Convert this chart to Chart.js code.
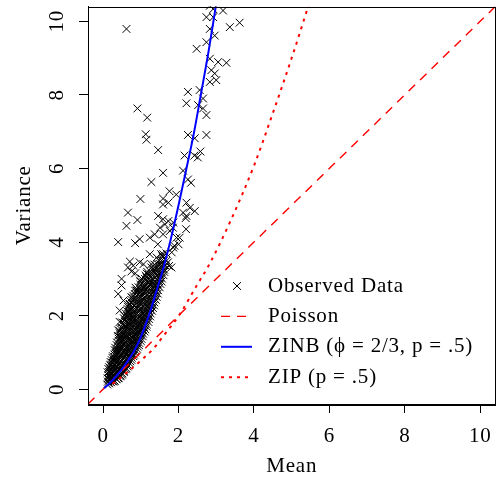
<!DOCTYPE html>
<html lang="en">
<head>
<meta charset="UTF-8">
<title>Mean vs Variance</title>
<script src="https://cdn.jsdelivr.net/npm/chart.js"></script>
<style>
  body { margin: 0; background: #fff; }
</style>
</head>
<body>
<canvas id="mvChart" width="502" height="479"></canvas>
<script>
// observed data, the scattered crosses outside the dense band
const sparseMean = [
  0.62, 2.92, 3.18, 2.74, 2.92, 2.83, 2.96, 3.36, 3.62, 2.74,
  2.48, 2.83, 3.05, 3.27, 2.87, 2.96, 2.83, 3.00, 2.25, 2.56,
  2.65, 2.21, 2.52, 2.65, 2.74, 2.25, 2.43, 2.74, 2.83, 0.91,
  1.17, 1.13, 1.15, 1.46, 2.16, 2.42, 2.58, 2.51, 1.59, 2.12,
  1.28, 2.25, 2.33, 1.76, 1.94, 0.99, 1.59, 1.59, 1.73, 2.21,
  2.30, 2.43, 2.12, 2.21, 1.46, 1.59, 1.73, 1.86, 0.66, 0.91,
  0.62, 2.19, 1.85, 2.20, 1.51, 1.64, 1.77, 1.95, 0.40, 0.85,
  0.97, 1.24, 1.37, 1.59, 2.03, 2.00, 1.89, 1.86, 1.45, 1.54,
  1.24, 1.42, 1.59, 1.82, 1.68, 0.71, 0.97, 0.80, 1.28, 1.07,
  1.51, 1.72, 1.81, 1.33, 1.62, 1.75, 1.50, 0.66, 0.75, 0.85,
  0.49, 0.49, 0.40, 0.54, 0.76, 0.71, 1.15, 0.98, 1.24, 1.07,
  0.89, 0.44, 0.44, 0.40
];
const sparseVar = [
  9.79, 10.33, 10.29, 10.11, 10.11, 9.79, 9.61, 9.84, 9.96, 9.43,
  9.25, 8.98, 8.89, 8.87, 8.67, 8.58, 8.35, 8.40, 8.08, 8.13,
  7.90, 7.77, 7.72, 7.63, 7.45, 6.91, 6.82, 6.91, 10.42, 7.63,
  7.38, 6.93, 6.78, 6.50, 6.35, 6.35, 6.46, 6.30, 5.88, 5.94,
  5.63, 5.70, 5.61, 5.38, 5.29, 5.17, 5.18, 5.02, 5.07, 5.07,
  4.93, 4.84, 4.80, 4.71, 4.71, 4.62, 4.57, 4.53, 4.80, 4.60,
  4.44, 4.65, 4.39, 4.35, 4.39, 4.48, 4.30, 4.12, 4.00, 3.97,
  4.08, 4.12, 4.21, 4.21, 4.12, 3.94, 3.90, 3.85, 3.94, 3.67,
  3.67, 3.58, 3.67, 3.72, 3.49, 3.47, 3.45, 3.36, 3.40, 3.40,
  3.40, 3.45, 3.31, 3.22, 3.25, 3.35, 3.15, 3.31, 3.20, 3.15,
  3.00, 2.82, 2.59, 2.41, 2.50, 2.32, 3.04, 2.95, 2.86, 2.77,
  2.68, 2.14, 1.83, 1.60
];

// observed data, the dense band near the origin (one line per strip)
const denseMean = [
  0.11, 0.13, 0.12, 0.14, 0.12,
  0.16, 0.18, 0.17, 0.19, 0.16,
  0.21, 0.23, 0.22, 0.24, 0.21, 0.23,
  0.27, 0.26, 0.28, 0.27, 0.29, 0.26,
  0.31, 0.33, 0.32, 0.34, 0.31, 0.33, 0.32,
  0.36, 0.38, 0.37, 0.39, 0.36, 0.38, 0.37,
  0.41, 0.43, 0.42, 0.44, 0.41, 0.43, 0.42, 0.44,
  0.47, 0.46, 0.48, 0.47, 0.49, 0.46, 0.48, 0.47,
  0.51, 0.53, 0.52, 0.54, 0.51, 0.53, 0.52, 0.54,
  0.56, 0.58, 0.57, 0.59, 0.56, 0.58, 0.57, 0.59, 0.56,
  0.62, 0.61, 0.63, 0.62, 0.64, 0.61, 0.63, 0.62, 0.64,
  0.66, 0.68, 0.67, 0.69, 0.66, 0.68, 0.67, 0.69, 0.66,
  0.72, 0.71, 0.73, 0.72, 0.74, 0.71, 0.73, 0.72, 0.74,
  0.76, 0.78, 0.77, 0.79, 0.76, 0.78, 0.77, 0.79, 0.76,
  0.82, 0.81, 0.83, 0.82, 0.84, 0.81, 0.83, 0.82, 0.84,
  0.86, 0.88, 0.87, 0.89, 0.86, 0.88, 0.87, 0.89, 0.86,
  0.92, 0.91, 0.93, 0.92, 0.94, 0.91, 0.93, 0.92,
  0.96, 0.98, 0.97, 0.99, 0.96, 0.98, 0.97, 0.99,
  1.02, 1.01, 1.03, 1.02, 1.04, 1.01, 1.03, 1.02,
  1.06, 1.08, 1.07, 1.09, 1.06, 1.08, 1.07,
  1.12, 1.11, 1.13, 1.12, 1.14, 1.11, 1.13,
  1.16, 1.18, 1.17, 1.19, 1.16, 1.18, 1.17,
  1.22, 1.21, 1.23, 1.22, 1.24, 1.21,
  1.26, 1.28, 1.27, 1.29, 1.26, 1.28,
  1.32, 1.31, 1.33, 1.32, 1.34,
  1.36, 1.38, 1.37, 1.39, 1.36,
  1.42, 1.41, 1.43, 1.42,
  1.46, 1.48, 1.47, 1.49,
  1.52, 1.51, 1.53,
  1.56, 1.58, 1.57,
  1.62, 1.61,
  1.66, 1.68
];
const denseVar = [
  0.13, 0.21, 0.30, 0.38, 0.46,
  0.16, 0.26, 0.35, 0.50, 0.60,
  0.19, 0.31, 0.43, 0.56, 0.67, 0.79,
  0.21, 0.36, 0.49, 0.63, 0.77, 0.90,
  0.22, 0.40, 0.56, 0.71, 0.84, 0.99, 1.13,
  0.27, 0.46, 0.61, 0.77, 0.94, 1.10, 1.27,
  0.31, 0.53, 0.67, 0.86, 1.02, 1.19, 1.37, 1.52,
  0.37, 0.60, 0.76, 0.93, 1.09, 1.29, 1.45, 1.63,
  0.43, 0.67, 0.83, 0.99, 1.17, 1.36, 1.54, 1.74,
  0.50, 0.71, 0.90, 1.07, 1.26, 1.44, 1.64, 1.84, 2.00,
  0.57, 0.80, 0.97, 1.16, 1.34, 1.56, 1.74, 1.94, 2.12,
  0.66, 0.88, 1.06, 1.24, 1.46, 1.64, 1.86, 2.04, 2.24,
  0.76, 0.96, 1.14, 1.36, 1.54, 1.76, 1.94, 2.16, 2.37,
  0.86, 1.04, 1.26, 1.44, 1.66, 1.84, 2.06, 2.24, 2.49,
  0.94, 1.16, 1.34, 1.56, 1.74, 1.96, 2.14, 2.41, 2.59,
  1.06, 1.24, 1.46, 1.64, 1.86, 2.04, 2.31, 2.54, 2.76,
  1.16, 1.34, 1.56, 1.74, 1.96, 2.21, 2.44, 2.69,
  1.26, 1.46, 1.64, 1.86, 2.11, 2.34, 2.61, 2.84,
  1.37, 1.59, 1.79, 2.01, 2.24, 2.51, 2.74, 3.01,
  1.51, 1.69, 1.93, 2.14, 2.41, 2.64, 2.91,
  1.63, 1.86, 2.07, 2.31, 2.54, 2.81, 3.09,
  1.76, 1.99, 2.23, 2.44, 2.71, 2.96, 3.19,
  1.91, 2.13, 2.37, 2.61, 2.84, 3.11,
  2.06, 2.29, 2.56, 2.79, 3.04, 3.31,
  2.21, 2.46, 2.69, 2.96, 3.19,
  2.36, 2.61, 2.84, 3.11, 3.39,
  2.51, 2.76, 2.99, 3.29,
  2.69, 2.94, 3.21, 3.49,
  2.86, 3.11, 3.39,
  3.01, 3.29, 3.61,
  3.19, 3.49,
  3.36, 3.69
];

// more of the dense band, the strips in between
const denseMean2 = [
  0.15, 0.14, 0.15, 0.16, 0.14,
  0.20, 0.19, 0.20, 0.21, 0.19, 0.20,
  0.25, 0.24, 0.25, 0.26, 0.24, 0.25,
  0.30, 0.29, 0.30, 0.31, 0.29, 0.30, 0.31,
  0.35, 0.34, 0.35, 0.36, 0.34, 0.35, 0.36,
  0.40, 0.39, 0.40, 0.41, 0.39, 0.40, 0.41, 0.39,
  0.45, 0.44, 0.45, 0.46, 0.44, 0.45, 0.46, 0.44,
  0.50, 0.49, 0.50, 0.51, 0.49, 0.50, 0.51, 0.49, 0.50,
  0.55, 0.54, 0.55, 0.56, 0.54, 0.55, 0.56, 0.54, 0.55,
  0.60, 0.59, 0.60, 0.61, 0.59, 0.60, 0.61, 0.59, 0.60,
  0.65, 0.64, 0.65, 0.66, 0.64, 0.65, 0.66, 0.64, 0.65,
  0.70, 0.69, 0.70, 0.71, 0.69, 0.70, 0.71, 0.69, 0.70,
  0.75, 0.74, 0.75, 0.76, 0.74, 0.75, 0.76, 0.74, 0.75,
  0.80, 0.79, 0.80, 0.81, 0.79, 0.80, 0.81, 0.79, 0.80,
  0.85, 0.84, 0.85, 0.86, 0.84, 0.85, 0.86, 0.84, 0.85,
  0.90, 0.89, 0.90, 0.91, 0.89, 0.90, 0.91, 0.89,
  0.95, 0.94, 0.95, 0.96, 0.94, 0.95, 0.96, 0.94,
  1.00, 0.99, 1.00, 1.01, 0.99, 1.00, 1.01, 0.99,
  1.05, 1.04, 1.05, 1.06, 1.04, 1.05, 1.06,
  1.10, 1.09, 1.10, 1.11, 1.09, 1.10, 1.11,
  1.15, 1.14, 1.15, 1.16, 1.14, 1.15, 1.16,
  1.20, 1.19, 1.20, 1.21, 1.19, 1.20,
  1.25, 1.24, 1.25, 1.26, 1.24, 1.25,
  1.30, 1.29, 1.30, 1.31, 1.29,
  1.35, 1.34, 1.35, 1.36, 1.34,
  1.40, 1.39, 1.40, 1.41,
  1.45, 1.44, 1.45, 1.46,
  1.50, 1.49, 1.50,
  1.55, 1.54, 1.55,
  1.60, 1.59
];
const denseVar2 = [
  0.17, 0.27, 0.37, 0.47, 0.55,
  0.20, 0.30, 0.42, 0.53, 0.65, 0.74,
  0.22, 0.35, 0.47, 0.60, 0.72, 0.85,
  0.24, 0.38, 0.52, 0.66, 0.80, 0.95, 1.06,
  0.28, 0.44, 0.60, 0.75, 0.90, 1.05, 1.20,
  0.30, 0.50, 0.65, 0.82, 0.98, 1.15, 1.32, 1.45,
  0.35, 0.56, 0.72, 0.90, 1.06, 1.24, 1.41, 1.58,
  0.40, 0.64, 0.80, 0.96, 1.13, 1.32, 1.50, 1.68, 1.82,
  0.47, 0.69, 0.86, 1.03, 1.21, 1.40, 1.59, 1.79, 1.93,
  0.54, 0.76, 0.94, 1.12, 1.30, 1.50, 1.69, 1.89, 2.06,
  0.62, 0.84, 1.02, 1.20, 1.40, 1.60, 1.80, 1.99, 2.18,
  0.71, 0.92, 1.10, 1.30, 1.50, 1.70, 1.90, 2.10, 2.30,
  0.80, 1.00, 1.20, 1.40, 1.60, 1.80, 2.00, 2.20, 2.43,
  0.90, 1.10, 1.30, 1.50, 1.70, 1.90, 2.10, 2.32, 2.54,
  1.00, 1.20, 1.40, 1.60, 1.80, 2.00, 2.22, 2.47, 2.68,
  1.10, 1.30, 1.50, 1.70, 1.90, 2.12, 2.37, 2.62,
  1.20, 1.40, 1.60, 1.80, 2.03, 2.27, 2.52, 2.77,
  1.31, 1.52, 1.72, 1.93, 2.17, 2.42, 2.67, 2.92,
  1.44, 1.64, 1.86, 2.07, 2.32, 2.57, 2.82,
  1.57, 1.77, 2.00, 2.22, 2.47, 2.72, 3.00,
  1.70, 1.92, 2.15, 2.38, 2.62, 2.88, 3.14,
  1.83, 2.06, 2.30, 2.52, 2.78, 3.03,
  1.98, 2.21, 2.46, 2.70, 2.94, 3.20,
  2.13, 2.37, 2.62, 2.87, 3.12,
  2.28, 2.53, 2.77, 3.03, 3.29,
  2.43, 2.68, 2.92, 3.20,
  2.60, 2.85, 3.10, 3.39,
  2.77, 3.02, 3.30,
  2.93, 3.20, 3.50,
  3.10, 3.39
];

// model curves
const poissonMean = [-0.4, 10.4];
const poissonVar = [-0.4, 10.4];
const zinbMean = [0.03, 0.20, 0.45, 0.62, 0.80, 0.95, 1.10, 1.25, 1.40, 1.60, 1.80, 2.00, 2.20, 2.40, 2.60, 2.80, 3.00, 3.10];
const zinbVar = [0.03, 0.19, 0.48, 0.72, 1.00, 1.30, 1.68, 2.12, 2.62, 3.30, 4.10, 5.00, 5.95, 6.92, 8.05, 9.20, 10.48, 11.10];
const zipMean = [0.25, 0.48, 0.71, 1.00, 1.33, 1.60, 2.04, 2.50, 2.82, 3.39, 4.01, 4.50, 5.00, 5.50];
const zipVar = [0.15, 0.33, 0.52, 0.78, 1.10, 1.45, 2.05, 2.85, 3.40, 4.60, 6.10, 7.50, 9.00, 10.60];

const xTicks = [0, 2, 4, 6, 8, 10];
const yTicks = [0, 2, 4, 6, 8, 10];
const legendLabels = ['Observed Data', 'Poisson', 'ZINB (\u03d5 = 2/3, p = .5)', 'ZIP (p = .5)'];

const serif = '"Liberation Serif", "DejaVu Serif", serif';
const pts = (xs, ys) => xs.map((x, i) => ({ x: x, y: ys[i] }));

// box, rotated y labels and the in-plot legend (R style)
const rDecor = {
  id: 'rDecor',
  beforeDraw(chart) {
    chart.ctx.letterSpacing = '0.8px';
  },
  afterDraw(chart) {
    const { ctx, chartArea: a, scales } = chart;
    ctx.save();
    ctx.strokeStyle = '#000';
    ctx.lineWidth = 1;
    ctx.strokeRect(Math.round(a.left) + 0.5, Math.round(a.top) + 0.5,
      Math.round(a.right - a.left), Math.round(a.bottom - a.top));

    ctx.fillStyle = '#000';
    ctx.font = '21px ' + serif;
    ctx.textAlign = 'center';
    ctx.textBaseline = 'middle';
    yTicks.forEach(v => {
      ctx.save();
      ctx.translate(57, scales.y.getPixelForValue(v));
      ctx.rotate(-Math.PI / 2);
      ctx.fillText(String(v), 0, 0);
      ctx.restore();
    });

    // legend
    ctx.textAlign = 'left';
    const ds = chart.data.datasets;
    legendLabels.forEach((lab, i) => {
      const y = 286 + i * 30.4;
      const d = ds[i];
      ctx.strokeStyle = d.borderColor;
      if (i === 0) {
        ctx.lineWidth = 1;
        ctx.setLineDash([]);
        ctx.beginPath();
        ctx.moveTo(233, y - 3.9); ctx.lineTo(241, y + 3.9);
        ctx.moveTo(233, y + 3.9); ctx.lineTo(241, y - 3.9);
        ctx.stroke();
      } else {
        ctx.lineWidth = d.borderWidth;
        ctx.setLineDash(d.borderDash || []);
        ctx.beginPath();
        ctx.moveTo(221, y); ctx.lineTo(252, y);
        ctx.stroke();
      }
      ctx.setLineDash([]);
      ctx.fillText(lab, 268, y);
    });
    ctx.restore();
  }
};

new Chart(document.getElementById('mvChart'), {
  type: 'scatter',
  data: {
    datasets: [
      {
        label: legendLabels[0],
        data: pts(sparseMean.concat(denseMean, denseMean2), sparseVar.concat(denseVar, denseVar2)),
        pointStyle: 'crossRot',
        pointRadius: 5.5,
        pointHoverRadius: 5.5,
        pointBorderWidth: 1,
        borderColor: '#000',
        backgroundColor: '#000',
        showLine: false,
        clip: 0,
        order: 3
      },
      {
        label: legendLabels[1],
        data: pts(poissonMean, poissonVar),
        showLine: true,
        pointRadius: 0,
        borderColor: '#ff0000',
        borderWidth: 1.4,
        borderDash: [9, 7],
        clip: 0,
        order: 2
      },
      {
        label: legendLabels[2],
        data: pts(zinbMean, zinbVar),
        showLine: true,
        pointRadius: 0,
        borderColor: '#0000ff',
        borderWidth: 2,
        cubicInterpolationMode: 'monotone',
        clip: 0,
        order: 0
      },
      {
        label: legendLabels[3],
        data: pts(zipMean, zipVar),
        showLine: true,
        pointRadius: 0,
        borderColor: '#ff0000',
        borderWidth: 2,
        borderDash: [3, 5],
        cubicInterpolationMode: 'monotone',
        clip: 0,
        order: 1
      }
    ]
  },
  options: {
    responsive: false,
    animation: false,
    events: [],
    layout: { padding: { top: 4, right: 6, left: 0, bottom: 0 } },
    plugins: {
      legend: { display: false },
      tooltip: { enabled: false }
    },
    scales: {
      x: {
        type: 'linear',
        min: -0.4,
        max: 10.4,
        afterBuildTicks: s => { s.ticks = xTicks.map(v => ({ value: v })); },
        afterFit: s => { s.height = 75; },
        grid: { drawOnChartArea: false, tickLength: 9, color: '#000' },
        border: { color: '#000' },
        ticks: { color: '#000', padding: 11, maxRotation: 0, autoSkip: false, font: { family: serif, size: 21 } },
        title: { display: true, text: 'Mean', color: '#000', font: { family: serif, size: 21 }, padding: { top: 0, bottom: 0 } }
      },
      y: {
        type: 'linear',
        min: -0.4,
        max: 10.4,
        afterBuildTicks: s => { s.ticks = yTicks.map(v => ({ value: v })); },
        afterFit: s => { s.width = 88; },
        grid: { drawOnChartArea: false, tickLength: 9, color: '#000' },
        border: { color: '#000' },
        ticks: { color: 'rgba(0,0,0,0)', font: { family: serif, size: 2 } },
        title: { display: true, text: 'Variance', color: '#000', font: { family: serif, size: 21 }, padding: { top: 12, bottom: 0 } }
      }
    }
  },
  plugins: [rDecor]
});
</script>
</body>
</html>
